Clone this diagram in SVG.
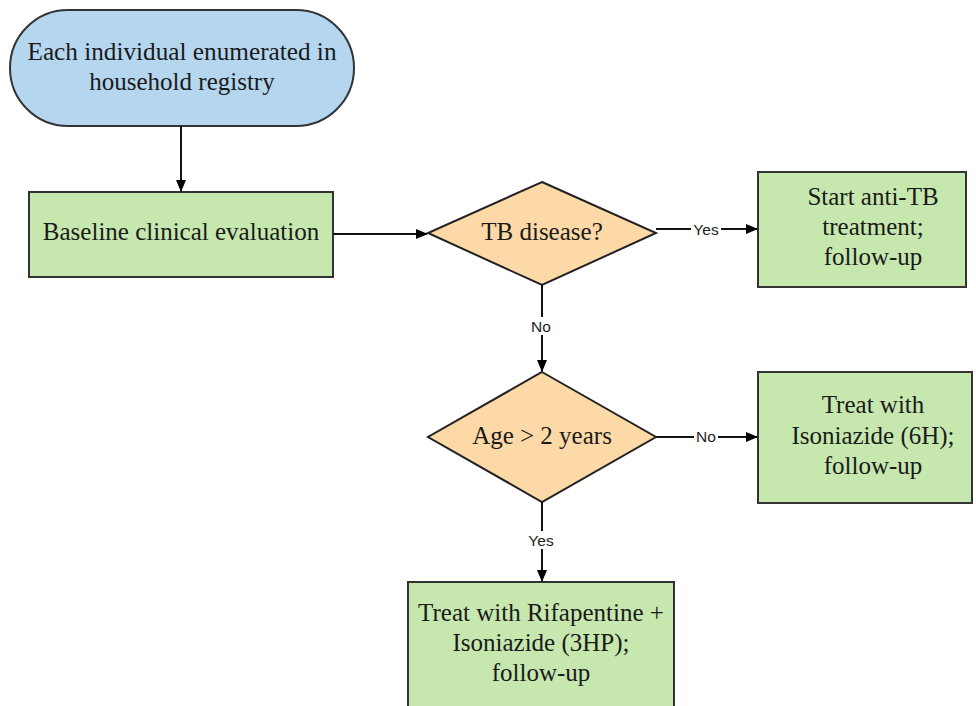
<svg xmlns="http://www.w3.org/2000/svg" width="976" height="706" viewBox="0 0 976 706">
<defs>
<marker id="ah" markerWidth="12" markerHeight="10" refX="11" refY="5" orient="auto" markerUnits="userSpaceOnUse">
<path d="M0,0 L12,5 L0,10 Z" fill="#000"/>
</marker>
<style>
.t{font-family:"Liberation Serif","Times New Roman",serif;font-size:25px;fill:#1a1a1a;text-anchor:middle;dominant-baseline:central}
.l{font-family:"Liberation Sans",Arial,sans-serif;font-size:15.5px;fill:#222;text-anchor:middle;dominant-baseline:central}
.box{fill:#c6e7ae;stroke:#333;stroke-width:2}
.dia{fill:#fdd9a7;stroke:#222;stroke-width:2}
.c{stroke:#111;stroke-width:2;fill:none}
.lb{fill:#fff}
</style>
</defs>
<rect width="976" height="706" fill="#fff"/>
<g id="start">
<rect x="10" y="10" width="344" height="116" rx="58" ry="58" fill="#b5d6ef" stroke="#333" stroke-width="2"/>
<text class="t" x="182" y="51" textLength="309" lengthAdjust="spacingAndGlyphs">Each individual enumerated in</text>
<text class="t" x="182" y="81">household registry</text>
</g>
<g id="baseline">
<rect class="box" x="29" y="192" width="304" height="85"/>
<text class="t" x="181" y="231">Baseline clinical evaluation</text>
</g>
<g id="tb">
<polygon class="dia" points="542,182 656,233 542,285 428,233"/>
<text class="t" x="542" y="231">TB disease?</text>
</g>
<g id="antitb">
<rect class="box" x="758" y="172" width="208" height="115"/>
<text class="t" x="873" y="196">Start anti-TB</text>
<text class="t" x="873" y="226">treatment;</text>
<text class="t" x="873" y="256">follow-up</text>
</g>
<g id="age">
<polygon class="dia" points="542,372 656,437 542,502 428,437"/>
<text class="t" x="542" y="435">Age &gt; 2 years</text>
</g>
<g id="inh">
<rect class="box" x="758" y="372" width="214" height="131"/>
<text class="t" x="873" y="404">Treat with</text>
<text class="t" x="873" y="435">Isoniazide (6H);</text>
<text class="t" x="873" y="465">follow-up</text>
</g>
<g id="hp">
<rect class="box" x="408" y="582" width="266" height="130"/>
<text class="t" x="541" y="612">Treat with Rifapentine +</text>
<text class="t" x="541" y="642">Isoniazide (3HP);</text>
<text class="t" x="541" y="672">follow-up</text>
</g>
<g id="connectors">
<line class="c" x1="181" y1="126" x2="181" y2="191" marker-end="url(#ah)"/>
<line class="c" x1="333" y1="234" x2="427" y2="234" marker-end="url(#ah)"/>
<line class="c" x1="656" y1="229" x2="757" y2="229" marker-end="url(#ah)"/>
<rect class="lb" x="691" y="220" width="30" height="18"/>
<text class="l" x="706" y="229">Yes</text>
<line class="c" x1="542" y1="285" x2="542" y2="371" marker-end="url(#ah)"/>
<rect class="lb" x="529" y="317" width="25" height="18"/>
<text class="l" x="541" y="326">No</text>
<line class="c" x1="656" y1="437" x2="757" y2="437" marker-end="url(#ah)"/>
<rect class="lb" x="694" y="428" width="24" height="18"/>
<text class="l" x="706" y="436">No</text>
<line class="c" x1="542" y1="502" x2="542" y2="581" marker-end="url(#ah)"/>
<rect class="lb" x="526" y="531" width="31" height="18"/>
<text class="l" x="541" y="540">Yes</text>
</g>
</svg>
